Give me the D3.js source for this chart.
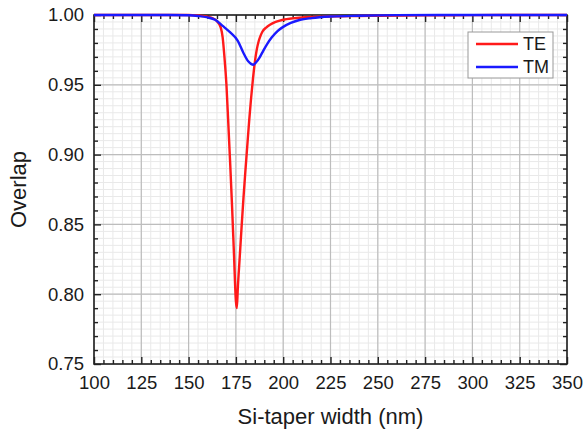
<!DOCTYPE html>
<html>
<head>
<meta charset="utf-8">
<script src="https://cdn.jsdelivr.net/npm/d3@7/dist/d3.min.js"></script>
<style>
  html, body { margin: 0; padding: 0; background: #fff; }
  svg { display: block; font-family: "Liberation Sans", Arial, sans-serif; }
</style>
</head>
<body>
<svg id="chart" width="587" height="436"></svg>
<script>
// Overlap versus Si-taper width for the TE and TM modes
const teWidth = [100, 125, 150, 155, 160, 163, 165, 167, 168, 169, 170, 171, 172, 173, 174, 175, 175.5, 176, 177, 178, 179, 180, 181, 182, 183, 184, 185, 186, 187, 188, 189, 191, 193, 196, 200, 205, 210, 220, 230, 240, 250, 275, 300, 325, 350];
const teOverlap = [1.000, 1.000, 1.000, 0.9996, 0.9988, 0.9975, 0.9955, 0.991, 0.984, 0.969, 0.950, 0.922, 0.893, 0.862, 0.828, 0.795, 0.790, 0.804, 0.826, 0.848, 0.869, 0.888, 0.906, 0.924, 0.940, 0.954, 0.966, 0.975, 0.981, 0.985, 0.988, 0.991, 0.993, 0.995, 0.9966, 0.9976, 0.9982, 0.9988, 0.9991, 0.9993, 0.9995, 0.9997, 0.9999, 1.000, 1.000];

const tmWidth = [100, 140, 150, 155, 160, 164, 168, 172, 176, 179, 181.5, 183, 184.2, 185.5, 187.5, 189.5, 191.5, 194, 197, 200, 204, 209, 215, 225, 240, 260, 300, 350];
const tmOverlap = [1.000, 1.000, 0.9998, 0.9993, 0.9983, 0.9966, 0.9922, 0.9875, 0.9815, 0.9728, 0.9668, 0.9650, 0.9644, 0.9658, 0.9695, 0.9745, 0.9792, 0.9840, 0.9885, 0.9915, 0.9943, 0.9966, 0.9978, 0.9989, 0.9995, 0.9999, 1.000, 1.000];

const xTicks = [100, 125, 150, 175, 200, 225, 250, 275, 300, 325, 350];
const yTicks = [0.75, 0.80, 0.85, 0.90, 0.95, 1.00];

const seriesNames = ["TE", "TM"];
const seriesColors = ["#ff1a1a", "#1a1aff"];

const svg = d3.select("#chart");
const m = { left: 94, right: 20, top: 15, bottom: 72 };
const W = 587, H = 436;

const x = d3.scaleLinear().domain([100, 350]).range([m.left, W - m.right]);
const y = d3.scaleLinear().domain([0.75, 1.00]).range([H - m.bottom, m.top]);

const x0 = x.range()[0], x1 = x.range()[1];
const y0 = y.range()[0], y1 = y.range()[1];

// minor grid
const minorX = d3.range(100, 350.01, 5);
const minorY = d3.range(0.75, 1.0001, 0.005);
const grid = svg.append("g");
grid.selectAll(".mx").data(minorX).join("line")
  .attr("x1", d => x(d)).attr("x2", d => x(d)).attr("y1", y1).attr("y2", y0)
  .attr("stroke", "#e9e9e9").attr("stroke-width", 1);
grid.selectAll(".my").data(minorY).join("line")
  .attr("x1", x0).attr("x2", x1).attr("y1", d => y(d)).attr("y2", d => y(d))
  .attr("stroke", "#e9e9e9").attr("stroke-width", 1);
// major grid
grid.selectAll(".Mx").data(xTicks).join("line")
  .attr("x1", d => x(d)).attr("x2", d => x(d)).attr("y1", y1).attr("y2", y0)
  .attr("stroke", "#bdbdbd").attr("stroke-width", 1.2);
grid.selectAll(".My").data(yTicks).join("line")
  .attr("x1", x0).attr("x2", x1).attr("y1", d => y(d)).attr("y2", d => y(d))
  .attr("stroke", "#bdbdbd").attr("stroke-width", 1.2);

// axes with inward ticks on all four sides
function styleAxis(g) {
  g.selectAll(".domain").remove();
  g.selectAll("line").attr("stroke", "#222").attr("stroke-width", 1.4);
}
const minorXT = minorX.filter(v => xTicks.indexOf(v) < 0);
const minorYT = d3.range(0.75, 1.0001, 0.01).map(v => +v.toFixed(2)).filter(v => yTicks.indexOf(v) < 0);

svg.append("g").attr("transform", `translate(0,${y0})`)
  .call(d3.axisBottom(x).tickValues(xTicks).tickFormat(d3.format("d")).tickSizeInner(-7).tickPadding(12))
  .call(styleAxis)
  .call(g => g.selectAll("text").attr("font-size", 18.5).attr("fill", "#1a1a1a"));
svg.append("g").attr("transform", `translate(0,${y0})`)
  .call(d3.axisBottom(x).tickValues(minorXT).tickFormat("").tickSizeInner(-4))
  .call(styleAxis);
svg.append("g").attr("transform", `translate(0,${y1})`)
  .call(d3.axisTop(x).tickValues(xTicks).tickFormat("").tickSizeInner(-7))
  .call(styleAxis);
svg.append("g").attr("transform", `translate(0,${y1})`)
  .call(d3.axisTop(x).tickValues(minorXT).tickFormat("").tickSizeInner(-4))
  .call(styleAxis);

svg.append("g").attr("transform", `translate(${x0},0)`)
  .call(d3.axisLeft(y).tickValues(yTicks).tickFormat(d3.format(".2f")).tickSizeInner(-7).tickPadding(10))
  .call(styleAxis)
  .call(g => g.selectAll("text").attr("font-size", 18.5).attr("fill", "#1a1a1a"));
svg.append("g").attr("transform", `translate(${x0},0)`)
  .call(d3.axisLeft(y).tickValues(minorYT).tickFormat("").tickSizeInner(-4))
  .call(styleAxis);
svg.append("g").attr("transform", `translate(${x1},0)`)
  .call(d3.axisRight(y).tickValues(yTicks).tickFormat("").tickSizeInner(-7))
  .call(styleAxis);
svg.append("g").attr("transform", `translate(${x1},0)`)
  .call(d3.axisRight(y).tickValues(minorYT).tickFormat("").tickSizeInner(-4))
  .call(styleAxis);

// frame
svg.append("rect").attr("x", x0).attr("y", y1).attr("width", x1 - x0).attr("height", y0 - y1)
  .attr("fill", "none").attr("stroke", "#222").attr("stroke-width", 1.6);

// curves
const line = d3.line().x(d => x(d[0])).y(d => y(d[1])).curve(d3.curveMonotoneX);
const series = [
  d3.zip(teWidth, teOverlap),
  d3.zip(tmWidth, tmOverlap)
];
svg.append("g").selectAll("path").data(series).join("path")
  .attr("d", line).attr("fill", "none")
  .attr("stroke", (d, i) => seriesColors[i]).attr("stroke-width", 2.4)
  .attr("stroke-linejoin", "round");

// legend
const lg = svg.append("g").attr("transform", "translate(468,32)");
lg.append("rect").attr("width", 85).attr("height", 46)
  .attr("fill", "#fff").attr("stroke", "#999").attr("stroke-width", 1);
seriesNames.forEach((name, i) => {
  lg.append("line").attr("x1", 8).attr("x2", 50).attr("y1", 12 + i * 23).attr("y2", 12 + i * 23)
    .attr("stroke", seriesColors[i]).attr("stroke-width", 2.4);
  lg.append("text").attr("x", 55).attr("y", 12 + i * 23).attr("dy", "0.36em")
    .attr("font-size", 18).attr("fill", "#1a1a1a").text(name);
});

// axis titles
svg.append("text").attr("x", (x0 + x1) / 2).attr("y", 424)
  .attr("text-anchor", "middle").attr("font-size", 22).attr("fill", "#1a1a1a")
  .text("Si-taper width (nm)");
svg.append("text").attr("transform", `translate(26,${(y0 + y1) / 2}) rotate(-90)`)
  .attr("text-anchor", "middle").attr("font-size", 22).attr("fill", "#1a1a1a")
  .text("Overlap");
</script>
</body>
</html>
